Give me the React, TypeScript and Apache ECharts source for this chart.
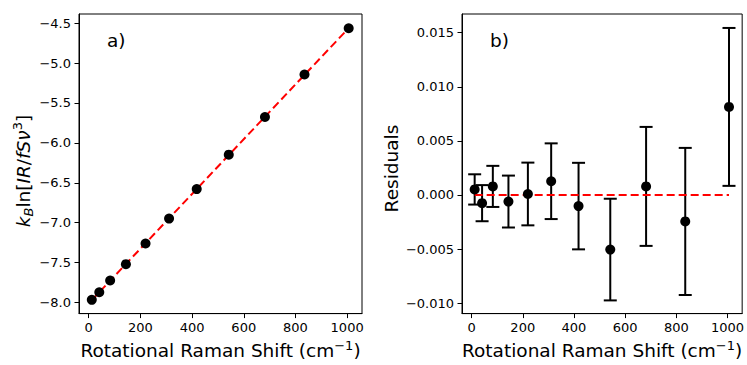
import React, { useEffect, useRef } from 'react';
import * as echarts from 'echarts';

const shift = [12, 41, 83, 144, 220, 311, 418, 542, 682, 835, 1006];
const lnIntensity = [-7.967, -7.872, -7.724, -7.52, -7.261, -6.948, -6.579, -6.148, -5.676, -5.143, -4.564];
const residuals = [0.00051, -0.00076, 0.00079, -0.00061, 0.00009, 0.00127, -0.00103, -0.00505, 0.00079, -0.00245, 0.00814];
const residualErrors = [0.0014, 0.00167, 0.0019, 0.0024, 0.0029, 0.0035, 0.004, 0.0047, 0.0055, 0.0068, 0.0073];
const xTicks = [0, 200, 400, 600, 800, 1000];
const leftYTicks = [-8.0, -7.5, -7.0, -6.5, -6.0, -5.5, -5.0, -4.5];
const rightYTicks = [-0.01, -0.005, 0, 0.005, 0.01, 0.015];

const FONT = 'DejaVu Sans';
const fmt = (v: number, d: number) => {
  const s = Math.abs(v).toFixed(d);
  return v < -1e-12 ? '\u2212' + s : s;
};

function linearFit(xs: number[], ys: number[]) {
  const n = xs.length;
  const mx = xs.reduce((a, b) => a + b, 0) / n;
  const my = ys.reduce((a, b) => a + b, 0) / n;
  let sxy = 0, sxx = 0;
  for (let i = 0; i < n; i++) {
    sxy += (xs[i] - mx) * (ys[i] - my);
    sxx += (xs[i] - mx) ** 2;
  }
  const slope = sxy / sxx;
  return { slope, intercept: my - slope * mx };
}

const labelRich = {
  n: { fontFamily: FONT, fontSize: 18.5, color: '#000', lineHeight: 24 },
  sup: { fontFamily: FONT, fontSize: 13, color: '#000', lineHeight: 13, verticalAlign: 'top' },
};

function xAxis(gridIndex: number) {
  return {
    type: 'value',
    gridIndex,
    min: -37.5,
    max: 1057.5,
    axisLine: { show: true, onZero: false, lineStyle: { color: '#000', width: 1 } },
    axisTick: { show: true, length: 4.5, customValues: xTicks, lineStyle: { color: '#000', width: 1 } },
    axisLabel: {
      customValues: xTicks,
      color: '#000',
      fontSize: 13,
      fontFamily: FONT,
      margin: 7,
      formatter: (v: number) => fmt(v, 0),
    },
    splitLine: { show: false },
    name: '{n|Rotational Raman Shift (cm}{sup|\u22121}{n|)}',
    nameLocation: 'middle',
    nameGap: 22,
    nameTextStyle: { rich: labelRich },
  };
}

export default function App() {
  const ref = useRef<HTMLDivElement>(null);
  useEffect(() => {
    const chart = echarts.init(ref.current!, null, { renderer: 'svg' });
    const { slope, intercept } = linearFit(shift, lnIntensity);
    const xFirst = shift[0];
    const xLast = shift[shift.length - 1];
    const fitLine = [
      [xFirst, intercept + slope * xFirst],
      [xLast, intercept + slope * xLast],
    ];
    const zeroLine = [
      [xFirst, 0],
      [xLast, 0],
    ];
    const errData = shift.map((x, i) => [x, residuals[i], residualErrors[i]]);

    const option: any = {
      animation: false,
      grid: [
        { left: 79, top: 14, width: 283, height: 305, show: true, borderColor: '#000', borderWidth: 1, backgroundColor: 'transparent' },
        { left: 462, top: 14, width: 283, height: 305, show: true, borderColor: '#000', borderWidth: 1, backgroundColor: 'transparent' },
      ],
      xAxis: [xAxis(0), xAxis(1)],
      yAxis: [
        {
          type: 'value',
          gridIndex: 0,
          min: -8.139,
          max: -4.385,
          axisLine: { show: true, onZero: false, lineStyle: { color: '#000', width: 1 } },
          axisTick: { show: true, length: 4.5, customValues: leftYTicks, lineStyle: { color: '#000', width: 1 } },
          axisLabel: { customValues: leftYTicks, color: '#000', fontSize: 13, fontFamily: FONT, margin: 8, formatter: (v: number) => fmt(v, 1) },
          splitLine: { show: false },
        },
        {
          type: 'value',
          gridIndex: 1,
          min: -0.01097,
          max: 0.01673,
          axisLine: { show: true, onZero: false, lineStyle: { color: '#000', width: 1 } },
          axisTick: { show: true, length: 4.5, customValues: rightYTicks, lineStyle: { color: '#000', width: 1 } },
          axisLabel: { customValues: rightYTicks, color: '#000', fontSize: 13, fontFamily: FONT, margin: 8, formatter: (v: number) => fmt(v, 3) },
          splitLine: { show: false },
        },
      ],
      graphic: [
        {
          type: 'text',
          x: 23,
          y: 171,
          rotation: Math.PI / 2,
          style: {
            text: '{i|k}{sub|B}{n|ln[}{i|IR}{n|/}{i|fSν}{sup|3}{n|]}',
            align: 'center',
            verticalAlign: 'middle',
            rich: {
              n: { fontFamily: FONT, fontSize: 18.5, fill: '#000', lineHeight: 24 },
              i: { fontFamily: FONT, fontStyle: 'italic', fontSize: 18.5, fill: '#000', lineHeight: 24 },
              sub: { fontFamily: FONT, fontStyle: 'italic', fontSize: 13, fill: '#000', lineHeight: 13, verticalAlign: 'bottom' },
              sup: { fontFamily: FONT, fontSize: 13, fill: '#000', lineHeight: 13, verticalAlign: 'top' },
            },
          },
        },
        {
          type: 'text',
          x: 391,
          y: 168.5,
          rotation: Math.PI / 2,
          style: { text: 'Residuals', fontFamily: FONT, fontSize: 18.5, fill: '#000', align: 'center', verticalAlign: 'middle' },
        },
        {
          type: 'text',
          x: 107,
          y: 40,
          style: { text: 'a)', fontFamily: FONT, fontSize: 18.5, fill: '#000', align: 'left', verticalAlign: 'middle' },
        },
        {
          type: 'text',
          x: 490,
          y: 40,
          style: { text: 'b)', fontFamily: FONT, fontSize: 18.5, fill: '#000', align: 'left', verticalAlign: 'middle' },
        },
      ],
      series: [
        {
          type: 'line',
          xAxisIndex: 0,
          yAxisIndex: 0,
          data: fitLine,
          symbol: 'none',
          lineStyle: { color: '#ff0000', width: 2, type: [8, 4] },
          z: 2,
        },
        {
          type: 'scatter',
          xAxisIndex: 0,
          yAxisIndex: 0,
          data: shift.map((x, i) => [x, lnIntensity[i]]),
          symbol: 'circle',
          symbolSize: 10,
          itemStyle: { color: '#000', opacity: 1 },
          z: 3,
        },
        {
          type: 'custom',
          xAxisIndex: 1,
          yAxisIndex: 1,
          data: errData,
          renderItem: (params: any, api: any) => {
            const x = api.value(0);
            const y = api.value(1);
            const e = api.value(2);
            const top = api.coord([x, y + e]);
            const bot = api.coord([x, y - e]);
            const cap = 6.5;
            const st = { stroke: '#000', lineWidth: 2 };
            return {
              type: 'group',
              children: [
                { type: 'line', shape: { x1: top[0], y1: top[1], x2: bot[0], y2: bot[1] }, style: st },
                { type: 'line', shape: { x1: top[0] - cap, y1: top[1], x2: top[0] + cap, y2: top[1] }, style: st },
                { type: 'line', shape: { x1: bot[0] - cap, y1: bot[1], x2: bot[0] + cap, y2: bot[1] }, style: st },
              ],
            };
          },
          z: 2,
        },
        {
          type: 'line',
          xAxisIndex: 1,
          yAxisIndex: 1,
          data: zeroLine,
          symbol: 'none',
          lineStyle: { color: '#ff0000', width: 2, type: [8, 4] },
          z: 3,
        },
        {
          type: 'scatter',
          xAxisIndex: 1,
          yAxisIndex: 1,
          data: shift.map((x, i) => [x, residuals[i]]),
          symbol: 'circle',
          symbolSize: 10,
          itemStyle: { color: '#000', opacity: 1 },
          z: 4,
        },
      ],
    };
    chart.setOption(option);
    return () => chart.dispose();
  }, []);
  return <div ref={ref} style={{ position: 'absolute', left: 0, top: 0, width: 747, height: 365 }} />;
}
